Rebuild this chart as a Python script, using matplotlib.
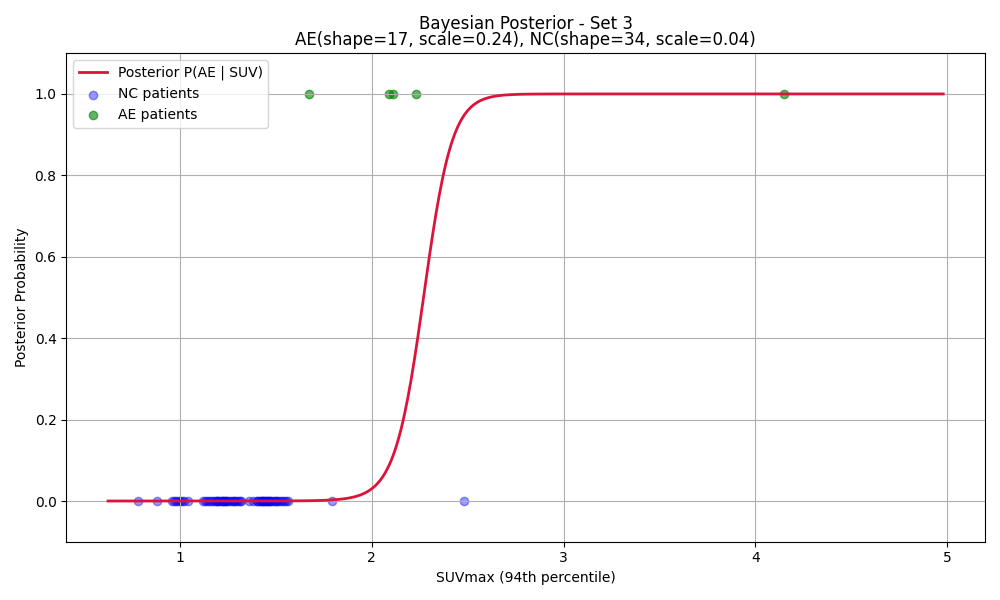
import numpy as np
import matplotlib
matplotlib.use("Agg")
import matplotlib.pyplot as plt
from math import lgamma

# Model parameters (from title)
AE_SHAPE, AE_SCALE = 17, 0.24
NC_SHAPE, NC_SCALE = 34, 0.04

# Patient SUVmax values
nc_values = [0.78, 0.88, 0.96, 0.97, 0.98, 0.99, 1.00, 1.01, 1.02, 1.04,
             1.12, 1.13, 1.14, 1.15, 1.16, 1.17, 1.18, 1.19, 1.19, 1.20,
             1.21, 1.22, 1.22, 1.23, 1.23, 1.24, 1.24, 1.25, 1.26, 1.27,
             1.28, 1.28, 1.29, 1.30, 1.31, 1.32,
             1.36, 1.38, 1.40, 1.40, 1.41, 1.42, 1.42, 1.43, 1.43, 1.44,
             1.45, 1.45, 1.46, 1.46, 1.47, 1.47, 1.48, 1.49, 1.50, 1.50,
             1.51, 1.52, 1.53, 1.54, 1.55, 1.56,
             1.79, 2.48]
ae_values = [1.67, 2.09, 2.11, 2.23, 4.15]

prior_ae = len(ae_values) / (len(ae_values) + len(nc_values))


def gamma_logpdf(x, k, theta):
    return (k - 1) * np.log(x) - x / theta - k * np.log(theta) - lgamma(k)


all_vals = np.array(nc_values + ae_values)
x = np.linspace(all_vals.min() * 0.8, all_vals.max() * 1.2, 500)
log_odds = (gamma_logpdf(x, AE_SHAPE, AE_SCALE) - gamma_logpdf(x, NC_SHAPE, NC_SCALE)
            + np.log(prior_ae) - np.log(1 - prior_ae))
posterior = 1.0 / (1.0 + np.exp(-log_odds))

fig, ax = plt.subplots(figsize=(10, 6), dpi=100)
ax.plot(x, posterior, color="crimson", lw=2, label="Posterior P(AE | SUV)")
ax.scatter(nc_values, np.zeros(len(nc_values)), color="blue", alpha=0.4, label="NC patients")
ax.scatter(ae_values, np.ones(len(ae_values)), color="green", alpha=0.6, label="AE patients")
ax.set_ylim(-0.1, 1.1)
ax.set_xlabel("SUVmax (94th percentile)")
ax.set_ylabel("Posterior Probability")
ax.set_title("Bayesian Posterior - Set 3\nAE(shape=17, scale=0.24), NC(shape=34, scale=0.04)",
             linespacing=0.85)
ax.grid(True)
ax.legend(loc="upper left")
fig.tight_layout()
fig.savefig("out.png")
